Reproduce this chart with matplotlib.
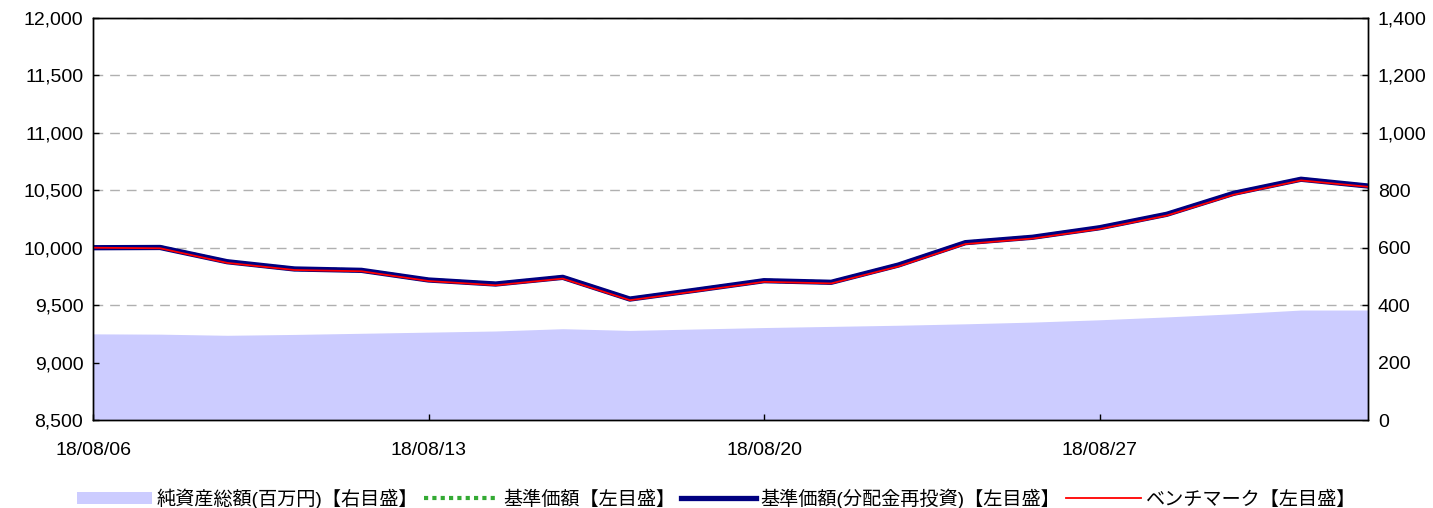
import matplotlib
matplotlib.use('Agg')
import numpy as np
import matplotlib.pyplot as plt
from matplotlib.patches import Patch
from matplotlib.lines import Line2D

plt.rcParams['font.family'] = ['Liberation Sans', 'Noto Sans CJK JP']

# business days 2018/08/06 - 2018/08/31
dates = ['18/08/06', '18/08/07', '18/08/08', '18/08/09', '18/08/10',
         '18/08/13', '18/08/14', '18/08/15', '18/08/16', '18/08/17',
         '18/08/20', '18/08/21', '18/08/22', '18/08/23', '18/08/24',
         '18/08/27', '18/08/28', '18/08/29', '18/08/30', '18/08/31']
net_assets = [300, 299, 295, 298, 302, 306, 310, 318, 312, 317,
              322, 326, 330, 335, 341, 349, 359, 370, 383, 383]
nav = [10000, 10004, 9878, 9815, 9803, 9719, 9684, 9742, 9553, 9632,
       9713, 9699, 9849, 10044, 10091, 10174, 10291, 10474, 10596, 10537]
nav_reinvested = [10000, 10002, 9878, 9815, 9803, 9719, 9684, 9742, 9553, 9632,
                  9713, 9699, 9849, 10044, 10091, 10174, 10291, 10474, 10596, 10537]
benchmark = [10000, 9995, 9868, 9806, 9795, 9710, 9673, 9731, 9543, 9622,
             9703, 9689, 9837, 10032, 10080, 10163, 10280, 10462, 10586, 10530]
tick_idx = [0, 5, 10, 15]

labels = ['純資産総額(百万円)【右目盛】', '基準価額【左目盛】',
          '基準価額(分配金再投資)【左目盛】', 'ベンチマーク【左目盛】']


def main():
    fig = plt.figure(figsize=(14.33, 5.08), dpi=100)
    ax = fig.add_axes([0.0649, 0.1732, 0.8898, 0.7914])
    ax2 = ax.twinx()
    ax.set_zorder(2)
    ax.patch.set_visible(False)
    ax2.set_zorder(1)

    x = np.arange(len(dates))

    # area on the right axis, grid underneath it
    ax2.set_axisbelow(True)
    ax2.yaxis.grid(True, color='#b0b0b0', linestyle=(0, (7, 5)), linewidth=1)
    ax2.fill_between(x, net_assets, 0, color='#ccccff', linewidth=0, zorder=2)
    ax2.set_ylim(0, 1400)
    ax2.set_yticks(range(0, 1401, 200))
    ax2.set_yticklabels([f'{v:,}' for v in range(0, 1401, 200)])

    ax.plot(x, nav, color='#33aa33', linewidth=3, linestyle=(0, (1, 1)))
    ax.plot(x, nav_reinvested, color='#000080', linewidth=3.8)
    ax.plot(x, benchmark, color='#ff0000', linewidth=1.3)
    ax.set_ylim(8500, 12000)
    ax.set_yticks(range(8500, 12001, 500))
    ax.set_yticklabels([f'{v:,}' for v in range(8500, 12001, 500)])
    ax.set_xlim(0, len(dates) - 1)
    ax.set_xticks(tick_idx)
    ax.set_xticklabels([dates[i] for i in tick_idx])

    for a in (ax, ax2):
        a.tick_params(direction='in', length=4, width=1, labelsize=14, colors='black')
        for s in a.spines.values():
            s.set_linewidth(1)
            s.set_color('black')
    ax.tick_params(axis='x', pad=16)
    ax.tick_params(axis='y', pad=7)
    ax2.tick_params(axis='y', pad=7)

    handles = [Patch(facecolor='#ccccff', edgecolor='none'),
               Line2D([], [], color='#33aa33', linewidth=3, linestyle=(0, (1, 1))),
               Line2D([], [], color='#000080', linewidth=3.8),
               Line2D([], [], color='#ff0000', linewidth=1.3)]
    fig.legend(handles, labels, loc='lower center', bbox_to_anchor=(0.5, -0.035), ncol=4,
               frameon=False, fontsize=13.8, handlelength=3.9, handleheight=0.6,
               handletextpad=0.25, columnspacing=0.3)

    fig.savefig('out.png', dpi=100)


if __name__ == '__main__':
    main()
